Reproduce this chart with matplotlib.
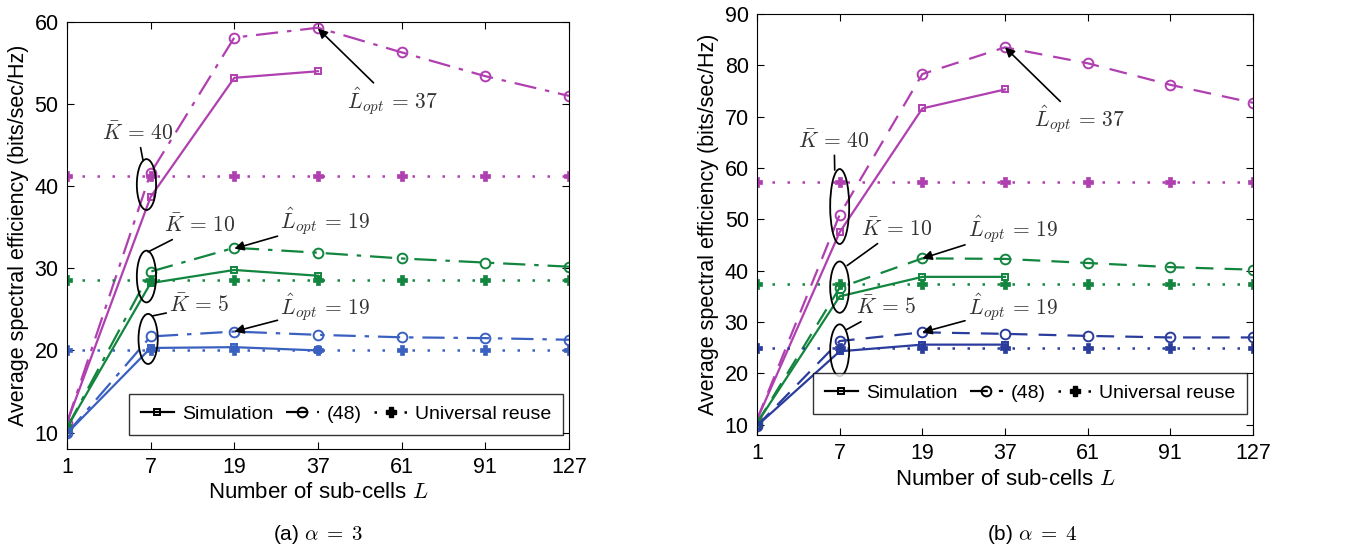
import numpy as np
import matplotlib
matplotlib.use("Agg")
import matplotlib.pyplot as plt
from matplotlib.patches import Ellipse
from matplotlib.lines import Line2D

plt.rcParams['font.family'] = ['Liberation Sans', 'DejaVu Sans']
plt.rcParams['mathtext.fontset'] = 'cm'

# data
L_TICKS = ['1', '7', '19', '37', '61', '91', '127']

# (a) alpha = 3
a_sim_k40 = [11.2, 38.7, 53.2, 54.0]
a_sim_k10 = [10.6, 28.2, 29.8, 29.1]
a_sim_k5 = [9.9, 20.3, 20.4, 20.0]
a_eq_k40 = [11.2, 41.6, 58.1, 59.3, 56.3, 53.4, 51.0]
a_eq_k10 = [10.6, 29.6, 32.5, 31.9, 31.2, 30.7, 30.2]
a_eq_k5 = [9.9, 21.7, 22.3, 21.9, 21.6, 21.5, 21.3]
a_uni = [41.2, 28.6, 20.0]

# (b) alpha = 4
b_sim_k40 = [11.0, 47.5, 71.6, 75.3]
b_sim_k10 = [10.3, 35.0, 38.8, 38.8]
b_sim_k5 = [9.8, 24.3, 25.6, 25.6]
b_eq_k40 = [11.0, 50.9, 78.3, 83.5, 80.4, 76.2, 72.7]
b_eq_k10 = [10.3, 36.7, 42.4, 42.3, 41.5, 40.7, 40.2]
b_eq_k5 = [9.8, 26.3, 28.0, 27.7, 27.3, 27.0, 27.0]
b_uni = [57.2, 37.5, 24.9]

MAGENTA = '#b03fb0'
GREEN = '#12853f'
BLUE_A = '#3a60c0'
BLUE_B = '#2a3c9c'

fig = plt.figure(figsize=(13.64, 5.48), dpi=100)
ax_a = fig.add_axes([0.0491, 0.1807, 0.368, 0.7792])
ax_b = fig.add_axes([0.555, 0.2062, 0.3636, 0.7683])

x = np.arange(len(L_TICKS))


def draw_panel(ax, sims, eqs, unis, colors, eq_style, legend_y):
    for sim, eq, uni, c in zip(sims, eqs, unis, colors):
        ax.plot(x[:len(sim)], sim, '-', color=c, lw=1.6, marker='s', ms=5,
                mfc='none', mew=1.4)
        ax.plot(x, eq, linestyle=eq_style, color=c, lw=1.6, marker='o', ms=7,
                mfc='none', mew=1.4)
        ax.plot(x, [uni] * len(x), linestyle=(0, (1, 5)), color=c, lw=1.8,
                marker='P', ms=6.5, mew=0.5)
    ax.set_xticks(x)
    ax.set_xticklabels(L_TICKS)
    ax.set_xlim(0, 6)
    ax.tick_params(direction='in', top=True, right=True, labelsize=15.5,
                   length=5, pad=6)
    ax.set_xlabel('Number of sub-cells $L$', fontsize=16, labelpad=3)
    ax.set_ylabel('Average spectral efficiency (bits/sec/Hz)', fontsize=15.5,
                  labelpad=4)
    handles = [
        Line2D([], [], color='k', lw=1.6, marker='s', ms=5, mfc='none', mew=1.4),
        Line2D([], [], color='k', lw=1.6, linestyle=eq_style, marker='o', ms=7,
               mfc='none', mew=1.4),
        Line2D([], [], color='k', lw=1.8, linestyle=(0, (1, 5)), marker='P', ms=6.5),
    ]
    ax.legend(handles, ['Simulation', '(48)', 'Universal reuse'], ncol=3,
              loc='lower right', bbox_to_anchor=(0.988, legend_y), fontsize=14,
              frameon=True, fancybox=False, edgecolor='k', handlelength=1.7,
              columnspacing=0.65, handletextpad=0.4, borderpad=0.6,
              borderaxespad=0.0)


def ellipse(ax, xc, yc, h):
    ax.add_patch(Ellipse((xc, yc), 0.23, h, fill=False, ec='k', lw=1.3, zorder=5))


def label(ax, txt, xy_text, xy_line):
    ax.annotate(txt, xy=xy_line, xytext=xy_text, fontsize=15.5,
                ha='left', va='center', color='#333333',
                arrowprops=dict(arrowstyle='-', color='k', lw=1.2,
                                shrinkA=0, shrinkB=0))


def arrow(ax, txt, xy_text, xy_point):
    ax.annotate(txt, xy=xy_point, xytext=xy_text, fontsize=15.5,
                ha='left', va='center', color='#333333',
                arrowprops=dict(arrowstyle='-|>', color='k', lw=1.2,
                                mutation_scale=14, shrinkA=0, shrinkB=0))


# panel (a)
draw_panel(ax_a, [a_sim_k40, a_sim_k10, a_sim_k5], [a_eq_k40, a_eq_k10, a_eq_k5],
           a_uni, [MAGENTA, GREEN, BLUE_A], (0, (10, 4, 2, 4)), 0.033)
ax_a.set_ylim(8, 60)
ax_a.set_yticks([10, 20, 30, 40, 50, 60])
ellipse(ax_a, 0.95, 40.2, 6.2)
ellipse(ax_a, 0.95, 29.0, 6.3)
ellipse(ax_a, 0.97, 21.4, 6.1)
label(ax_a, r'$\bar{K}\,=\,40$', (0.42, 46.4), (0.91, 43.1))
label(ax_a, r'$\bar{K}\,=\,10$', (1.16, 35.2), (0.97, 32.0))
label(ax_a, r'$\bar{K}\,=\,5$', (1.22, 25.4), (1.02, 24.2))
arrow(ax_a, r'$\hat{L}_{opt}\,=\,37$', (3.35, 50.3), (3.0, 59.2))
arrow(ax_a, r'$\hat{L}_{opt}\,=\,19$', (2.55, 35.6), (2.0, 32.4))
arrow(ax_a, r'$\hat{L}_{opt}\,=\,19$', (2.55, 25.2), (2.0, 22.3))

# panel (b)
draw_panel(ax_b, [b_sim_k40, b_sim_k10, b_sim_k5], [b_eq_k40, b_eq_k10, b_eq_k5],
           b_uni, [MAGENTA, GREEN, BLUE_B], (0, (8, 5)), 0.05)
ax_b.set_ylim(8, 90)
ax_b.set_yticks([10, 20, 30, 40, 50, 60, 70, 80, 90])
ellipse(ax_b, 1.0, 52.5, 14.6)
ellipse(ax_b, 1.0, 36.8, 10.0)
ellipse(ax_b, 1.0, 24.5, 10.1)
label(ax_b, r'$\bar{K}\,=\,40$', (0.5, 65.2), (0.94, 59.6))
label(ax_b, r'$\bar{K}\,=\,10$', (1.26, 48.0), (1.09, 41.0))
label(ax_b, r'$\bar{K}\,=\,5$', (1.2, 32.8), (1.08, 28.5))
arrow(ax_b, r'$\hat{L}_{opt}\,=\,37$', (3.35, 69.3), (3.0, 83.5))
arrow(ax_b, r'$\hat{L}_{opt}\,=\,19$', (2.55, 48.0), (2.0, 42.4))
arrow(ax_b, r'$\hat{L}_{opt}\,=\,19$', (2.55, 32.8), (2.0, 28.0))

fig.text(0.233, 0.024, r'(a) $\alpha\;=\;3$', ha='center', va='center', fontsize=15)
fig.text(0.757, 0.024, r'(b) $\alpha\;=\;4$', ha='center', va='center', fontsize=15)

fig.savefig('out.png', dpi=100)
